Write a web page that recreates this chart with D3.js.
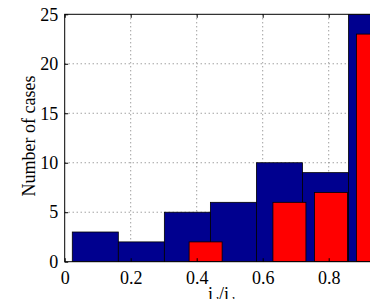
<!DOCTYPE html>
<html><head><meta charset="utf-8">
<script src="https://cdn.jsdelivr.net/npm/d3@7"></script>
<style>
html,body{margin:0;padding:0;background:#fff;overflow:hidden}
svg{display:block}
text{font-family:"Liberation Serif","Times New Roman",serif;fill:#000}
</style></head><body>
<script>
// Blue histogram: bin edges and counts
const blueEdges = [0.023, 0.1625, 0.302, 0.4415, 0.581, 0.7205, 0.86, 0.9995];
const blueCounts = [3, 2, 5, 6, 10, 9, 25];
// Red bar chart: bin centers and counts
const redCenters = [0.427, 0.554, 0.681, 0.807, 0.934];
const redCounts = [2, 0, 6, 7, 23];
const redWidth = 0.1;
const xTicks = [0, 0.2, 0.4, 0.6, 0.8];
const yTicks = [0, 5, 10, 15, 20, 25];
const xLabel = ["i", "d", "/i", "d,max"];
const yLabel = "Number of cases";

const W = 370, H = 299;
const L = 64.7, T = 14.3, B = 261.7, R = 394.7;
const svg = d3.select("body").append("svg").attr("width", W).attr("height", H);
const x = d3.scaleLinear().domain([0, 1]).range([L, R]);
const y = d3.scaleLinear().domain([0, 25]).range([B, T]);

// grid
const g = svg.append("g");
g.selectAll("line.gx").data(xTicks.filter(d => d > 0)).join("line")
  .attr("x1", d => x(d)).attr("x2", d => x(d)).attr("y1", T).attr("y2", B)
  .attr("stroke", "#777").attr("stroke-width", 1).attr("stroke-dasharray", "1,3");
g.selectAll("line.gy").data(yTicks.filter(d => d > 0 && d < 25)).join("line")
  .attr("y1", d => y(d)).attr("y2", d => y(d)).attr("x1", L).attr("x2", R)
  .attr("stroke", "#777").attr("stroke-width", 1).attr("stroke-dasharray", "1,3");

svg.append("clipPath").attr("id", "c").append("rect")
  .attr("x", L).attr("y", T).attr("width", R - L).attr("height", B - T);
const bars = svg.append("g").attr("clip-path", "url(#c)");
bars.selectAll("rect.b").data(blueCounts).join("rect")
  .attr("x", (d, i) => x(blueEdges[i])).attr("width", (d, i) => x(blueEdges[i + 1]) - x(blueEdges[i]))
  .attr("y", d => y(d)).attr("height", d => y(0) - y(d))
  .attr("fill", "#00008f").attr("stroke", "#000").attr("stroke-width", 0.8);
bars.selectAll("rect.r").data(redCounts).join("rect")
  .attr("x", (d, i) => x(redCenters[i] - redWidth / 2)).attr("width", x(redWidth) - x(0))
  .attr("y", d => y(d)).attr("height", d => y(0) - y(d))
  .attr("fill", d => d > 0 ? "#ff0000" : "none").attr("stroke", d => d > 0 ? "#000" : "none").attr("stroke-width", 0.8);

// axes box
svg.append("rect").attr("x", L).attr("y", T).attr("width", R - L).attr("height", B - T)
  .attr("fill", "none").attr("stroke", "#000").attr("stroke-width", 1);

// inward ticks
const tl = 3.5;
svg.append("g").attr("transform", `translate(0,${B})`)
  .call(d3.axisBottom(x).tickValues(xTicks).tickSize(-tl).tickFormat(d3.format("~g")).tickPadding(tl + 6))
  .call(a => { a.select(".domain").remove(); a.selectAll("text").attr("font-size", 18).attr("font-family", "Liberation Serif"); a.selectAll("line").attr("stroke", "#000"); });
svg.append("g").attr("transform", `translate(0,${T})`)
  .call(d3.axisTop(x).tickValues(xTicks).tickSize(-tl).tickFormat(""))
  .call(a => { a.select(".domain").remove(); a.selectAll("line").attr("stroke", "#000"); });
svg.append("g").attr("transform", `translate(${L},0)`)
  .call(d3.axisLeft(y).tickValues(yTicks).tickSize(-tl).tickFormat(d3.format("d")).tickPadding(tl + 3))
  .call(a => { a.select(".domain").remove(); a.selectAll("text").attr("font-size", 18).attr("font-family", "Liberation Serif"); a.selectAll("line").attr("stroke", "#000"); });

// labels
svg.append("text").attr("transform", "translate(35,136) rotate(-90)")
  .attr("text-anchor", "middle").attr("font-size", 18).text(yLabel);
const xl = svg.append("text").attr("x", 208).attr("y", 300).attr("font-size", 18);
xl.append("tspan").text(xLabel[0]);
xl.append("tspan").attr("font-size", 12).attr("dy", 6).text(xLabel[1]);
xl.append("tspan").attr("dy", -6).text(xLabel[2]);
xl.append("tspan").attr("font-size", 12).attr("dy", 6).text(xLabel[3]);
</script>
</body></html>
